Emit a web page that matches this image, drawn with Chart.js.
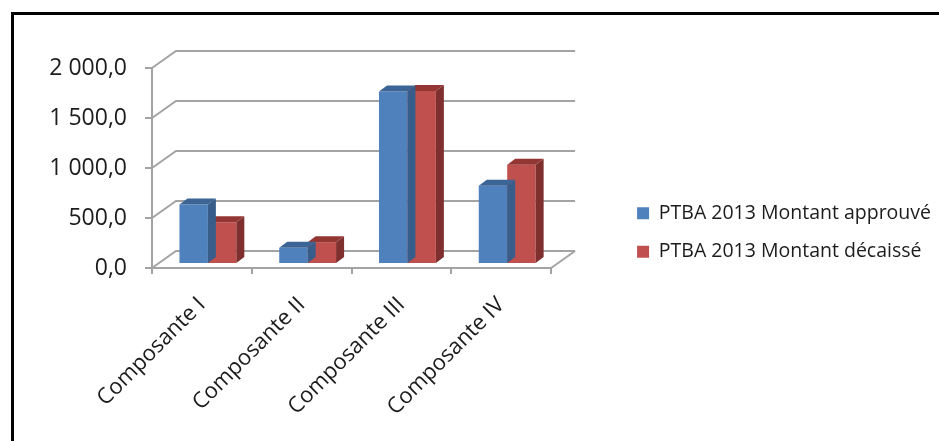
<!DOCTYPE html>
<html lang="fr">
<head>
<meta charset="utf-8">
<title>PTBA 2013 - Montants par composante</title>
<script src="https://cdn.jsdelivr.net/npm/chart.js@4.4.1/dist/chart.umd.min.js"></script>
<style>
  html, body { margin: 0; padding: 0; background: #fff; width: 939px; height: 441px; overflow: hidden; }
  #cadre { position: absolute; left: 11px; top: 12px; width: 980px; height: 480px; border: 3px solid #000; }
  #graphique { position: absolute; left: 0; top: 0; }
</style>
</head>
<body>
<div id="cadre"></div>
<canvas id="graphique" width="939" height="441"></canvas>
<script>
// Données
const categories = ['Composante I', 'Composante II', 'Composante III', 'Composante IV'];
const seriesLabels = ['PTBA 2013 Montant approuvé', 'PTBA 2013 Montant décaissé'];
const montantApprouve = [595, 162, 1725, 782];
const montantDecaisse = [418, 218, 1730, 992];
const yTicks = [0, 500, 1000, 1500, 2000];

// Style "Excel 2007" en 3D
const GRIS = '#a3a3a3';
const TEXTE = '#1c1c1c';
const POLICE = "'Open Sans', 'DejaVu Sans', sans-serif";
const MUR = { dx: 24, dy: -17 };        // profondeur du mur du fond
const BARRE = { dx: 8, dy: -6 };        // profondeur d'une barre
const DECALAGE = { dx: 6, dy: -4 };     // position des barres dans la profondeur

// 2000 -> "2 000,0"
function formatFr(v) {
  const [ent, dec] = Number(v).toFixed(1).split('.');
  return ent.replace(/\B(?=(\d{3})+(?!\d))/g, ' ') + ',' + dec;
}

// Dessine les murs (fond + côté gauche) et les faces latérales / dessus des barres
const effet3D = {
  id: 'effet3D',
  beforeDatasetsDraw(chart) {
    const { ctx, chartArea } = chart;
    const yScale = chart.scales.y;
    ctx.save();
    ctx.strokeStyle = GRIS;
    ctx.lineWidth = 2;
    yScale.ticks.forEach(t => {
      const py = yScale.getPixelForValue(t.value);
      ctx.beginPath();
      ctx.moveTo(chartArea.left, py);
      ctx.lineTo(chartArea.left + MUR.dx, py + MUR.dy);
      ctx.lineTo(chartArea.right + MUR.dx, py + MUR.dy);
      ctx.stroke();
    });
    // arête droite du plancher
    const p0 = yScale.getPixelForValue(0);
    ctx.beginPath();
    ctx.moveTo(chartArea.right, p0);
    ctx.lineTo(chartArea.right + MUR.dx, p0 + MUR.dy);
    ctx.stroke();
    ctx.restore();
  },
  beforeDatasetDraw(chart) {
    chart.ctx.save();
    chart.ctx.translate(DECALAGE.dx, DECALAGE.dy);
  },
  afterDatasetDraw(chart, args) {
    const ctx = chart.ctx;
    const ds = chart.data.datasets[args.index];
    args.meta.data.forEach(bar => {
      const { x, y, base, width } = bar.getProps(['x', 'y', 'base', 'width'], true);
      const g = x - width / 2;
      const d = x + width / 2;
      // face latérale
      ctx.fillStyle = ds.couleurCote;
      ctx.beginPath();
      ctx.moveTo(d, y);
      ctx.lineTo(d + BARRE.dx, y + BARRE.dy);
      ctx.lineTo(d + BARRE.dx, base + BARRE.dy);
      ctx.lineTo(d, base);
      ctx.closePath();
      ctx.fill();
      // dessus
      ctx.fillStyle = ds.couleurDessus;
      ctx.beginPath();
      ctx.moveTo(g, y);
      ctx.lineTo(g + BARRE.dx, y + BARRE.dy);
      ctx.lineTo(d + BARRE.dx, y + BARRE.dy);
      ctx.lineTo(d, y);
      ctx.closePath();
      ctx.fill();
    });
    ctx.restore();
  }
};

// axe invisible qui ne sert qu'à réserver de la place
const axeVide = w => ({
  type: 'linear',
  grid: { display: false },
  border: { display: false },
  ticks: { display: false },
  afterFit: w
});

new Chart(document.getElementById('graphique'), {
  type: 'bar',
  data: {
    labels: categories,
    datasets: [
      {
        label: seriesLabels[0],
        data: montantApprouve,
        backgroundColor: '#4f81bd',
        couleurCote: '#385d8a',
        couleurDessus: '#3c6596',
        borderWidth: 0,
        clip: false
      },
      {
        label: seriesLabels[1],
        data: montantDecaisse,
        backgroundColor: '#c0504d',
        couleurCote: '#7f2f2d',
        couleurDessus: '#933634',
        borderWidth: 0,
        clip: false
      }
    ]
  },
  options: {
    responsive: false,
    animation: false,
    events: [],
    categoryPercentage: 0.57,
    barPercentage: 1.0,
    layout: { padding: { top: 24, left: 0, right: -2, bottom: 0 } },
    plugins: {
      tooltip: { enabled: false },
      legend: {
        position: 'right',
        align: 'center',
        maxWidth: 340,
        labels: {
          boxWidth: 12,
          boxHeight: 12,
          padding: 19,
          color: TEXTE,
          font: { family: POLICE, size: 19.5 }
        }
      }
    },
    scales: {
      x: {
        offset: true,
        grid: { offset: true, drawOnChartArea: false, tickLength: 6, color: GRIS, lineWidth: 2 },
        border: { color: GRIS, width: 2 },
        ticks: {
          minRotation: 45,
          maxRotation: 45,
          padding: 18,
          labelOffset: 0,
          color: TEXTE,
          font: { family: POLICE, size: 22 }
        },
        afterFit(s) { s.height = 173; }
      },
      y: {
        min: 0,
        max: 2000,
        afterBuildTicks(s) { s.ticks = yTicks.map(v => ({ value: v })); },
        grid: { drawOnChartArea: false, tickLength: 7, color: GRIS, lineWidth: 2 },
        border: { color: GRIS, width: 2 },
        ticks: {
          padding: 18,
          color: TEXTE,
          font: { family: POLICE, size: 23 },
          callback: v => formatFr(v)
        },
        afterFit(s) { s.width = 152; }
      },
      marge: { ...axeVide(s => { s.width = 67; }), position: 'right' },
      haut: { ...axeVide(s => { s.height = 44; }), position: 'top' }
    }
  },
  plugins: [effet3D]
});
</script>
</body>
</html>
